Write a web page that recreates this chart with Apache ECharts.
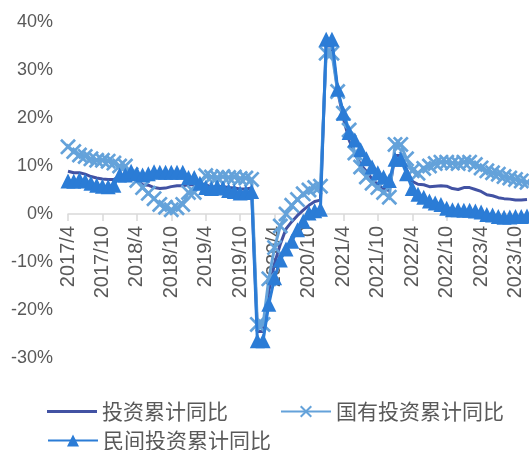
<!DOCTYPE html>
<html>
<head>
<meta charset="utf-8">
<script src="https://cdn.jsdelivr.net/npm/echarts@6/dist/echarts.min.js"></script>
<style>
html,body{margin:0;padding:0;background:#fff;}
#c{width:529px;height:450px;}
</style>
</head>
<body>
<div id="c"></div>
<script>
const categories = [
  '2017/4','2017/5','2017/6','2017/7','2017/8','2017/9','2017/10','2017/11','2017/12',
  '2018/1','2018/2','2018/3','2018/4','2018/5','2018/6','2018/7','2018/8','2018/9','2018/10','2018/11','2018/12',
  '2019/1','2019/2','2019/3','2019/4','2019/5','2019/6','2019/7','2019/8','2019/9','2019/10','2019/11','2019/12',
  '2020/1','2020/2','2020/3','2020/4','2020/5','2020/6','2020/7','2020/8','2020/9','2020/10','2020/11','2020/12',
  '2021/1','2021/2','2021/3','2021/4','2021/5','2021/6','2021/7','2021/8','2021/9','2021/10','2021/11','2021/12',
  '2022/1','2022/2','2022/3','2022/4','2022/5','2022/6','2022/7','2022/8','2022/9','2022/10','2022/11','2022/12',
  '2023/1','2023/2','2023/3','2023/4','2023/5','2023/6','2023/7','2023/8','2023/9','2023/10','2023/11','2023/12'
];

const totalInvest = [
  8.9, 8.6, 8.6, 8.3, 7.8, 7.5, 7.3, 7.2, 7.2,
  7.9, 7.9, 7.5, 7.0, 6.1, 6.0, 5.5, 5.3, 5.4, 5.7, 5.9, 5.9,
  6.1, 6.1, 6.3, 6.1, 5.6, 5.8, 5.7, 5.5, 5.4, 5.2, 5.2, 5.4,
  -24.5, -24.5, -16.1, -10.3, -6.3, -3.1, -1.6, -0.3, 0.8, 1.8, 2.6, 2.9,
  35.0, 35.0, 25.6, 19.9, 15.4, 12.6, 10.3, 8.9, 7.3, 6.1, 5.2, 4.9,
  12.2, 12.2, 9.3, 6.8, 6.2, 6.1, 5.7, 5.8, 5.9, 5.8, 5.3, 5.1,
  5.5, 5.5, 5.1, 4.7, 4.0, 3.8, 3.4, 3.2, 3.1, 2.9, 2.9, 3.0
];

const stateInvest = [
  14.0, 13.0, 12.3, 12.0, 11.5, 11.2, 11.2, 11.0, 10.6,
  10.0, 10.0, 8.2, 7.0, 5.5, 4.3, 3.2, 2.0, 1.4, 0.9, 1.3, 2.0,
  4.5, 4.5, 6.5, 8.0, 7.7, 7.6, 7.8, 7.6, 7.7, 7.4, 7.5, 7.2,
  -23.0, -23.0, -13.5, -7.0, -2.5, 0.0, 1.8, 3.0, 4.2, 5.0, 5.5, 5.8,
  33.5, 33.5, 25.5, 21.0, 17.5, 12.7, 9.8, 7.7, 6.4, 5.5, 4.5, 3.5,
  14.5, 14.5, 11.5, 9.0, 8.5, 9.5, 10.0, 10.5, 10.8, 10.8, 10.6, 10.5,
  10.8, 10.8, 10.3, 9.6, 9.0, 8.6, 8.3, 7.8, 7.5, 7.2, 6.9, 6.6
];

const privateInvest = [
  6.9, 6.8, 7.2, 6.9, 6.4, 6.0, 5.8, 5.7, 6.0,
  8.1, 8.1, 8.9, 8.4, 8.1, 8.4, 8.8, 8.7, 8.7, 8.7, 8.7, 8.7,
  7.6, 7.6, 6.4, 5.5, 5.3, 5.7, 5.4, 4.9, 4.7, 4.4, 4.5, 4.7,
  -26.4, -26.4, -18.8, -13.3, -9.6, -7.3, -5.7, -3.3, -1.5, 0.2, 0.7, 1.0,
  36.4, 36.4, 26.0, 21.0, 17.0, 15.4, 13.4, 11.5, 9.8, 8.6, 7.7, 7.0,
  11.4, 11.4, 8.4, 5.3, 4.1, 3.5, 2.7, 2.3, 2.0, 1.2, 0.9, 0.9,
  0.8, 0.8, 0.6, 0.4, -0.1, -0.2, -0.5, -0.7, -0.6, -0.5, -0.5, -0.4
];

const seriesNames = ['投资累计同比', '国有投资累计同比', '民间投资累计同比'];

const X_PATH = 'path://M0,1.2L1.2,0L5,3.8L8.8,0L10,1.2L6.2,5L10,8.8L8.8,10L5,6.2L1.2,10L0,8.8L3.8,5Z';
const LINE_ICON = 'path://M0,0L50,0L50,3L0,3Z';
const C_TOTAL = '#4252a3';
const C_STATE = '#64a2da';
const C_PRIV = '#2b7cd6';
const TXT = '#595959';

const chart = echarts.init(document.getElementById('c'), null, {renderer: 'canvas'});
chart.setOption({
  animation: false,
  backgroundColor: '#ffffff',
  grid: [
    {left: 68, right: 2, top: 22, bottom: 92, containLabel: false},
    {left: 68, right: 2, top: 204, height: 10, containLabel: false}
  ],
  legend: [
    {
      data: [{name: seriesNames[0], icon: LINE_ICON}, seriesNames[1]],
      left: 42, top: 396,
      itemWidth: 50, itemHeight: 15, itemGap: 52,
      textStyle: {color: TXT, fontSize: 21, fontFamily: 'Noto Sans CJK SC'}
    },
    {
      data: [seriesNames[2]],
      left: 42, top: 425,
      itemWidth: 50, itemHeight: 15,
      textStyle: {color: TXT, fontSize: 21, fontFamily: 'Noto Sans CJK SC'}
    }
  ],
  xAxis: [
    {
      type: 'category', gridIndex: 0,
      data: categories,
      boundaryGap: false,
      axisLine: {show: false},
      axisTick: {show: false},
      axisLabel: {show: false},
      splitLine: {show: false}
    },
    {
      type: 'category', gridIndex: 1, position: 'bottom',
      data: categories,
      boundaryGap: false,
      axisLine: {show: true, onZero: false, lineStyle: {color: '#d9d9d9', width: 1.5}},
      axisTick: {show: true, interval: 5, length: 7, lineStyle: {color: '#d9d9d9', width: 1.5}},
      axisLabel: {interval: 5, rotate: 90, margin: 12, color: TXT, fontSize: 20, fontFamily: 'Liberation Sans'},
      splitLine: {show: false}
    }
  ],
  yAxis: [
    {
      type: 'value', gridIndex: 0,
      min: -30, max: 40, interval: 10,
      axisLine: {show: false},
      axisTick: {show: false},
      splitLine: {show: false},
      axisLabel: {formatter: '{value}%', margin: 15, color: TXT, fontSize: 18, fontFamily: 'Liberation Sans'}
    },
    {
      type: 'value', gridIndex: 1, min: 0, max: 1,
      show: false
    }
  ],
  series: [
    {
      name: seriesNames[0], type: 'line', data: totalInvest,
      xAxisIndex: 0, yAxisIndex: 0,
      showSymbol: false, symbol: 'none',
      lineStyle: {color: C_TOTAL, width: 3},
      itemStyle: {color: C_TOTAL},
      z: 2
    },
    {
      name: seriesNames[1], type: 'line', data: stateInvest,
      xAxisIndex: 0, yAxisIndex: 0,
      symbol: X_PATH, symbolSize: 16, showAllSymbol: true,
      lineStyle: {color: C_STATE, width: 3},
      itemStyle: {color: C_STATE},
      z: 3
    },
    {
      name: seriesNames[2], type: 'line', data: privateInvest,
      xAxisIndex: 0, yAxisIndex: 0,
      symbol: 'triangle', symbolSize: 15, showAllSymbol: true,
      lineStyle: {color: C_PRIV, width: 3},
      itemStyle: {color: C_PRIV},
      z: 4
    }
  ]
});
</script>
</body>
</html>
